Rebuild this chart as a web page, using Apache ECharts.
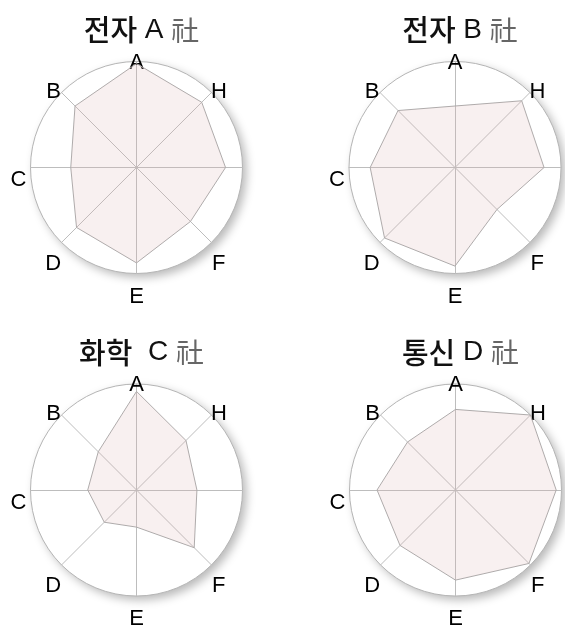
<!DOCTYPE html>
<html>
<head>
    <meta charset="utf-8">
    <title>레이더 차트</title>
    <script src="https://cdn.jsdelivr.net/npm/echarts@6/dist/echarts.min.js"></script>
    <style>
        html, body { margin: 0; padding: 0; background: #fff; }
        #main { width: 565px; height: 632px; }
    </style>
</head>
<body>
<div id="main"></div>
<script>
    // 축 이름 (A 부터 반시계 방향, 오른쪽 축은 이름 없음)
    var indicatorNames = ['A', 'B', 'C', 'D', 'E', 'F', '', 'H'];
    var companyNames = ['전자 A', '전자 B', '화학  C', '통신 D'];
    var suffix = '社';

    var valuesA = [98, 82, 62, 80, 90, 72, 84, 87];
    var valuesB = [58, 76, 80, 94, 93, 56, 84, 89];
    var valuesC = [93, 51, 46, 43, 35, 77, 57, 66];
    var valuesD = [76, 64, 74, 74, 85, 98, 95, 100];
    var allValues = [valuesA, valuesB, valuesC, valuesD];

    var centers = [[136.5, 167.5], [455, 167.5], [136.5, 490], [455.5, 490]];

    var labelFont = "'Liberation Sans', Arial, sans-serif";
    // 라벨 위치 보정용 (축 이름별 여백)
    var labelRich = {
        A: { padding: [0, 0, 0, 0] },
        B: { padding: [0, 9, 19, 0] },
        C: { padding: [25, 16, 0, 0] },
        D: { padding: [59, 9, 0, 0] },
        E: { padding: [24, 0, 0, 0] },
        F: { padding: [59, 0, 0, 9] },
        H: { padding: [0, 0, 19, 8] }
    };
    Object.keys(labelRich).forEach(function (k) {
        labelRich[k].fontSize = 22;
        labelRich[k].color = '#000';
        labelRich[k].fontFamily = labelFont;
    });

    var titleRich = {
        k: { fontSize: 29, color: '#111', fontWeight: 500,
             fontFamily: "'Noto Sans CJK KR', sans-serif" },
        l: { fontSize: 28, color: '#111', fontWeight: 'normal',
             fontFamily: "'Liberation Sans', Arial, sans-serif" },
        s: { fontSize: 28, color: '#666', fontWeight: 'normal',
             fontFamily: "'Noto Sans CJK KR', sans-serif" }
    };

    function titleText(name) {
        // 한글 부분과 영문 부분을 나눠서 글꼴 지정
        var m = name.match(/^(\S+)(\s+)(.*)$/);
        return '{k|' + m[1] + '}{l|' + m[2] + m[3] + ' }{s|' + suffix + '}';
    }

    var myChart = echarts.init(document.getElementById('main'), null, { renderer: 'canvas' });

    var option = {
        backgroundColor: '#fff',
        animation: false,
        title: [],
        radar: [],
        series: []
    };

    allValues.forEach(function (vals, i) {
        option.title.push({
            text: titleText(companyNames[i]),
            left: centers[i][0],
            top: centers[i][1] - 157,
            textAlign: 'center',
            textStyle: { rich: titleRich }
        });
        option.radar.push({
            center: centers[i],
            radius: 106,
            shape: 'circle',
            splitNumber: 1,
            startAngle: 90,
            nameGap: -12,
            indicator: indicatorNames.map(function (n) { return { name: n, max: 100 }; }),
            axisName: {
                formatter: function (name) { return name ? '{' + name + '|' + name + '}' : ''; },
                rich: labelRich
            },
            axisLine: { lineStyle: { color: '#bdbdbd', width: 1 } },
            splitLine: { lineStyle: { color: '#b5b5b5', width: 1 } },
            splitArea: {
                show: true,
                areaStyle: {
                    color: ['#ffffff'],
                    shadowColor: 'rgba(0,0,0,0.28)',
                    shadowBlur: 10,
                    shadowOffsetX: 4,
                    shadowOffsetY: 4
                }
            }
        });
        option.series.push({
            type: 'radar',
            radarIndex: i,
            symbol: 'none',
            lineStyle: { color: '#ababab', width: 1 },
            areaStyle: { color: 'rgb(220,180,180)', opacity: 0.2 },
            data: [{ value: vals, name: companyNames[i] }]
        });
    });

    myChart.setOption(option);
</script>
</body>
</html>
